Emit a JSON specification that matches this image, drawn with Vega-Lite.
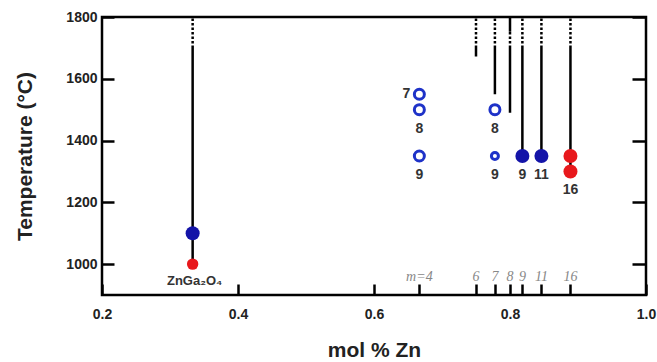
{
  "$schema": "https://vega.github.io/schema/vega-lite/v6.json",
  "width": 544,
  "height": 278,
  "autosize": {"type": "none"},
  "padding": {"left": 102, "top": 17, "right": 11, "bottom": 67},
  "background": "white",
  "config": {
    "view": {"stroke": "black", "strokeWidth": 2.5},
    "axis": {
      "labelFont": "Liberation Sans", "labelFontWeight": "bold", "labelFontSize": 14, "labelColor": "#222",
      "titleFont": "Liberation Sans", "titleFontWeight": "bold", "titleFontSize": 21, "titleColor": "#222",
      "grid": false, "domain": false, "tickColor": "black", "tickWidth": 2.5
    }
  },
  "datasets": {
    "segments": [
      {"x": 0.3333, "y1": 1000, "y2": 1700, "style": "solid"},
      {"x": 0.3333, "y1": 1700, "y2": 1800, "style": "dotted"},
      {"x": 0.75, "y1": 1672, "y2": 1700, "style": "solid"},
      {"x": 0.75, "y1": 1700, "y2": 1800, "style": "dotted"},
      {"x": 0.7778, "y1": 1550, "y2": 1700, "style": "solid"},
      {"x": 0.7778, "y1": 1700, "y2": 1800, "style": "dotted"},
      {"x": 0.8, "y1": 1490, "y2": 1700, "style": "solid"},
      {"x": 0.8, "y1": 1700, "y2": 1752, "style": "dotted"},
      {"x": 0.8, "y1": 1752, "y2": 1800, "style": "solid"},
      {"x": 0.8182, "y1": 1350, "y2": 1700, "style": "solid"},
      {"x": 0.8182, "y1": 1700, "y2": 1800, "style": "dotted"},
      {"x": 0.8462, "y1": 1350, "y2": 1700, "style": "solid"},
      {"x": 0.8462, "y1": 1700, "y2": 1800, "style": "dotted"},
      {"x": 0.8889, "y1": 1300, "y2": 1700, "style": "solid"},
      {"x": 0.8889, "y1": 1700, "y2": 1800, "style": "dotted"}
    ],
    "points": [
      {"x": 0.3333, "y": 1100, "set": "A", "marker": "filled", "class": "major"},
      {"x": 0.3333, "y": 1000, "set": "B", "marker": "filled", "class": "minor"},
      {"x": 0.8182, "y": 1350, "set": "A", "marker": "filled", "class": "major"},
      {"x": 0.8462, "y": 1350, "set": "A", "marker": "filled", "class": "major"},
      {"x": 0.8889, "y": 1350, "set": "B", "marker": "filled", "class": "major"},
      {"x": 0.8889, "y": 1300, "set": "B", "marker": "filled", "class": "major"},
      {"x": 0.6667, "y": 1550, "set": "A", "marker": "open", "class": "major"},
      {"x": 0.6667, "y": 1500, "set": "A", "marker": "open", "class": "major"},
      {"x": 0.6667, "y": 1350, "set": "A", "marker": "open", "class": "major"},
      {"x": 0.7778, "y": 1500, "set": "A", "marker": "open", "class": "major"},
      {"x": 0.7778, "y": 1350, "set": "A", "marker": "open", "class": "minor"}
    ],
    "labels": [
      {"x": 0.6667, "y": 1550, "label": "7", "pos": "left"},
      {"x": 0.6667, "y": 1500, "label": "8", "pos": "below"},
      {"x": 0.6667, "y": 1350, "label": "9", "pos": "below"},
      {"x": 0.7778, "y": 1500, "label": "8", "pos": "below"},
      {"x": 0.7778, "y": 1350, "label": "9", "pos": "below"},
      {"x": 0.8182, "y": 1350, "label": "9", "pos": "below"},
      {"x": 0.8462, "y": 1350, "label": "11", "pos": "below"},
      {"x": 0.8889, "y": 1300, "label": "16", "pos": "below"},
      {"x": 0.3333, "y": 1000, "label": "ZnGa₂O₄", "pos": "formula"}
    ],
    "mlabels": [
      {"x": 0.6667, "label": "m=4"},
      {"x": 0.75, "label": "6"},
      {"x": 0.7778, "label": "7"},
      {"x": 0.8, "label": "8"},
      {"x": 0.8182, "label": "9"},
      {"x": 0.8462, "label": "11"},
      {"x": 0.8889, "label": "16"}
    ]
  },
  "layer": [
    {
      "data": {"name": "segments"},
      "mark": {"type": "rule", "strokeWidth": 2.5, "color": "black", "strokeCap": "butt"},
      "encoding": {
        "x": {
          "field": "x", "type": "quantitative",
          "scale": {"domain": [0.2, 1.0], "nice": false, "zero": false},
          "axis": {
            "values": [0.2, 0.4, 0.6, 0.6667, 0.75, 0.7778, 0.8, 0.8182, 0.8462, 0.8889, 1.0],
            "labelExpr": "(datum.value == 0.2 || datum.value == 0.4 || datum.value == 0.6 || datum.value == 0.8 || datum.value == 1) ? format(datum.value, '.1f') : ''",
            "labelOverlap": false, "labelFlush": false,
            "tickSize": -11, "labelPadding": 23,
            "title": "mol % Zn", "titlePadding": 18
          }
        },
        "y": {
          "field": "y1", "type": "quantitative",
          "scale": {"domain": [900, 1800], "nice": false, "zero": false},
          "axis": {
            "values": [1000, 1200, 1400, 1600, 1800], "format": "d",
            "tickSize": -12, "labelPadding": 17, "labelFlush": false,
            "title": "Temperature (°C)", "titlePadding": 30
          }
        },
        "y2": {"field": "y2"},
        "strokeDash": {
          "field": "style", "type": "nominal",
          "scale": {"domain": ["solid", "dotted"], "range": [[1, 0], [2.5, 2]]},
          "legend": null
        }
      }
    },
    {
      "data": {"name": "points"},
      "transform": [{"filter": "datum.marker == 'filled'"}],
      "mark": {"type": "point", "shape": "circle", "filled": true, "opacity": 1},
      "encoding": {
        "x": {"field": "x", "type": "quantitative"},
        "y": {"field": "y", "type": "quantitative", "scale": {"domain": [900, 1800], "nice": false, "zero": false}, "axis": null},
        "color": {"field": "set", "type": "nominal", "scale": {"domain": ["A", "B"], "range": ["#1414a8", "#e8181c"]}, "legend": null},
        "size": {"field": "class", "type": "nominal", "scale": {"domain": ["major", "minor"], "range": [196, 130]}, "legend": null}
      }
    },
    {
      "data": {"name": "points"},
      "transform": [{"filter": "datum.marker == 'open'"}],
      "mark": {"type": "point", "shape": "circle", "filled": false, "strokeWidth": 3, "color": "#1e32c8", "opacity": 1},
      "encoding": {
        "x": {"field": "x", "type": "quantitative"},
        "y": {
          "field": "y", "type": "quantitative",
          "scale": {"domain": [900, 1800], "nice": false, "zero": false},
          "axis": {"orient": "right", "values": [1000, 1200, 1400, 1600, 1800], "labels": false, "title": null, "tickSize": -14}
        },
        "size": {"field": "class", "type": "nominal", "scale": {"domain": ["major", "minor"], "range": [100, 49]}, "legend": null}
      }
    },
    {
      "data": {"name": "labels"},
      "transform": [{"filter": "datum.pos == 'below'"}],
      "mark": {"type": "text", "font": "Liberation Sans", "fontWeight": "bold", "fontSize": 14, "color": "#333", "baseline": "middle", "dy": 19},
      "encoding": {
        "x": {"field": "x", "type": "quantitative"},
        "y": {"field": "y", "type": "quantitative", "scale": {"domain": [900, 1800], "nice": false, "zero": false}, "axis": null},
        "text": {"field": "label"}
      }
    },
    {
      "data": {"name": "labels"},
      "transform": [{"filter": "datum.pos == 'left'"}],
      "mark": {"type": "text", "font": "Liberation Sans", "fontWeight": "bold", "fontSize": 14, "color": "#333", "baseline": "middle", "dx": -13},
      "encoding": {
        "x": {"field": "x", "type": "quantitative"},
        "y": {"field": "y", "type": "quantitative", "scale": {"domain": [900, 1800], "nice": false, "zero": false}, "axis": null},
        "text": {"field": "label"}
      }
    },
    {
      "data": {"name": "labels"},
      "transform": [{"filter": "datum.pos == 'formula'"}],
      "mark": {"type": "text", "font": "Liberation Sans", "fontWeight": "bold", "fontSize": 13, "color": "#333", "baseline": "middle", "dy": 17, "dx": 2},
      "encoding": {
        "x": {"field": "x", "type": "quantitative"},
        "y": {"field": "y", "type": "quantitative", "scale": {"domain": [900, 1800], "nice": false, "zero": false}, "axis": null},
        "text": {"field": "label"}
      }
    },
    {
      "data": {"name": "mlabels"},
      "mark": {"type": "text", "font": "Liberation Serif", "fontStyle": "italic", "fontSize": 14, "color": "#888", "baseline": "middle", "dy": -18},
      "encoding": {
        "x": {"field": "x", "type": "quantitative"},
        "y": {"datum": 900, "type": "quantitative", "scale": {"domain": [900, 1800], "nice": false, "zero": false}, "axis": null},
        "text": {"field": "label"}
      }
    }
  ],
  "resolve": {"scale": {"y": "independent", "size": "independent"}}
}
